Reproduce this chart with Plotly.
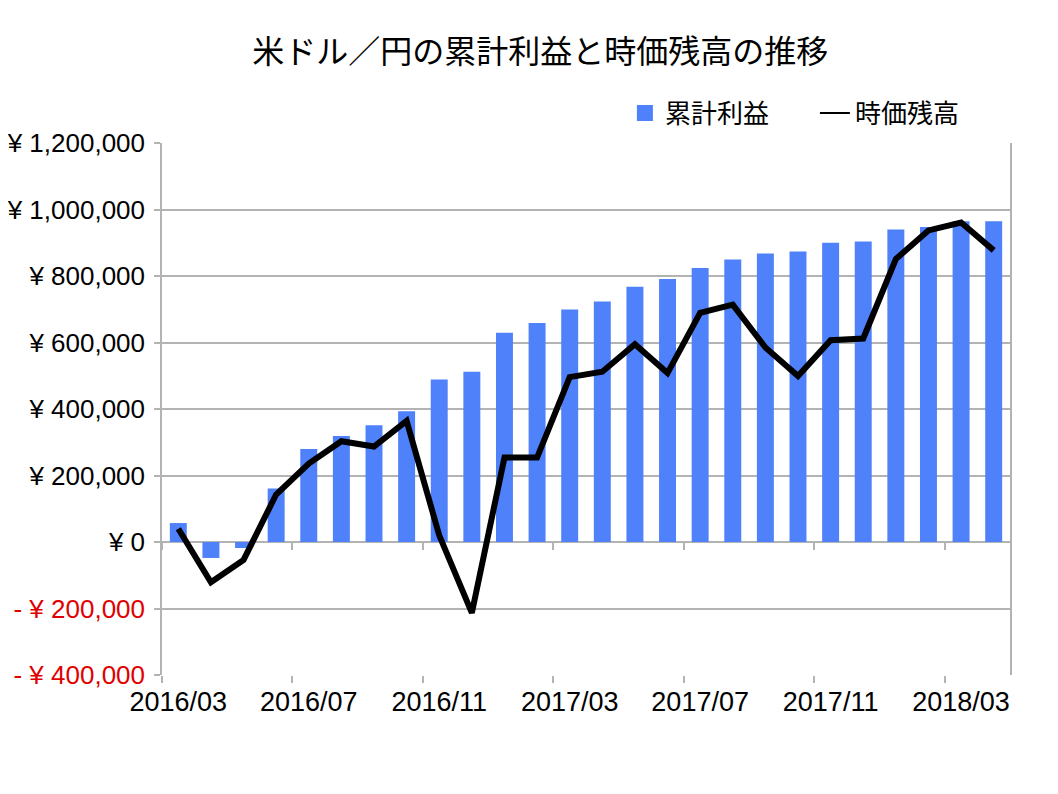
import plotly.graph_objects as go

months = ["2016/03","2016/04","2016/05","2016/06","2016/07","2016/08","2016/09","2016/10",
          "2016/11","2016/12","2017/01","2017/02","2017/03","2017/04","2017/05","2017/06",
          "2017/07","2017/08","2017/09","2017/10","2017/11","2017/12","2018/01","2018/02",
          "2018/03","2018/04"]
cum_profit = [57000, -48000, -18000, 161000, 280000, 319000, 351000, 393000,
              489000, 512000, 629000, 659000, 699000, 723000, 768000, 791000,
              824000, 850000, 868000, 874000, 900000, 904000, 940000, 947000,
              965000, 965000]
market_value = [40000, -121000, -54000, 143000, 236000, 303000, 287000, 364000,
                20000, -213000, 254000, 254000, 496000, 512000, 595000, 508000,
                689000, 714000, 585000, 499000, 607000, 612000, 851000, 937000,
                961000, 877000]
ytick_vals = [-400000, -200000, 0, 200000, 400000, 600000, 800000, 1000000, 1200000]
ytick_text = ['<span style="color:#e00000">- ¥ 400,000</span>',
              '<span style="color:#e00000">- ¥ 200,000</span>',
              "¥ 0", "¥ 200,000", "¥ 400,000", "¥ 600,000", "¥ 800,000",
              "¥ 1,000,000", "¥ 1,200,000"]
xtick_idx = list(range(0, len(months), 4))
xtick_text = [months[i] for i in xtick_idx]
boundaries = [i - 0.5 for i in xtick_idx]

BLUE = "#4f81fb"
xs = list(range(len(months)))
fig = go.Figure()
fig.add_trace(go.Bar(x=xs, y=cum_profit, name="累計利益", marker_color=BLUE,
                     marker_line_width=0, showlegend=False))
fig.add_trace(go.Scatter(x=xs, y=market_value, name="時価残高", mode="lines",
                         line=dict(color="black", width=6), showlegend=False))
# legend entries styled like the reference
fig.add_trace(go.Scatter(x=[None], y=[None], name="累計利益", mode="markers",
                         marker=dict(symbol="square", size=16, color=BLUE)))
fig.add_trace(go.Scatter(x=[None], y=[None], name="時価残高", mode="lines",
                         line=dict(color="black", width=2)))
# invisible trace to place tick marks on the zero line
fig.add_trace(go.Scatter(x=xs, y=[0]*len(xs), xaxis="x2", mode="lines",
                         line=dict(width=0), showlegend=False, hoverinfo="skip"))

grid = "#b3b3b3"
fig.update_layout(
    width=1050, height=786,
    paper_bgcolor="white", plot_bgcolor="white",
    margin=dict(l=154, r=48, t=135, b=119, autoexpand=False),
    bargap=0.48,
    font=dict(family="Liberation Sans, Arial, sans-serif", color="black"),
    title=dict(text="米ドル／円の累計利益と時価残高の推移", x=0.507, xanchor="center",
               y=0.944, yanchor="middle",
               font=dict(family="Noto Sans CJK JP", size=32, color="black")),
    legend=dict(orientation="h", x=0.994, xanchor="right", y=1.056, yanchor="middle",
                font=dict(family="Noto Sans CJK JP", size=26), itemwidth=30,
                entrywidth=145, entrywidthmode="pixels",
                traceorder="normal"),
    xaxis=dict(range=[-0.5, len(months) - 0.5], tickmode="array", tickvals=xtick_idx,
               ticktext=xtick_text, ticks="", showgrid=False, showline=False, zeroline=False,
               automargin=False, ticklabelstandoff=8,
               tickfont=dict(family="Liberation Sans", size=27),
               minor=dict(tickmode="array", tickvals=boundaries, ticks="outside",
                          ticklen=7, tickcolor=grid, tickwidth=1.5)),
    xaxis2=dict(overlaying="x", anchor="free", position=0.25, range=[-0.5, len(months) - 0.5],
                tickmode="array", tickvals=boundaries, ticks="outside", ticklen=7,
                tickcolor=grid, tickwidth=1.5, showticklabels=False, showgrid=False,
                showline=False, zeroline=False, automargin=False),
    yaxis=dict(range=[-400000, 1200000], tickmode="array", tickvals=ytick_vals,
               ticktext=ytick_text, ticks="outside", ticklen=6, tickcolor=grid,
               tickwidth=1.5, showgrid=True, gridcolor=grid, gridwidth=1.5,
               showline=True, linecolor=grid, linewidth=1.5, mirror=True,
               zeroline=True, zerolinecolor=grid, zerolinewidth=1.5,
               automargin=False,
               tickfont=dict(size=26), ticklabelstandoff=4),
)
fig.write_html("out.html")
